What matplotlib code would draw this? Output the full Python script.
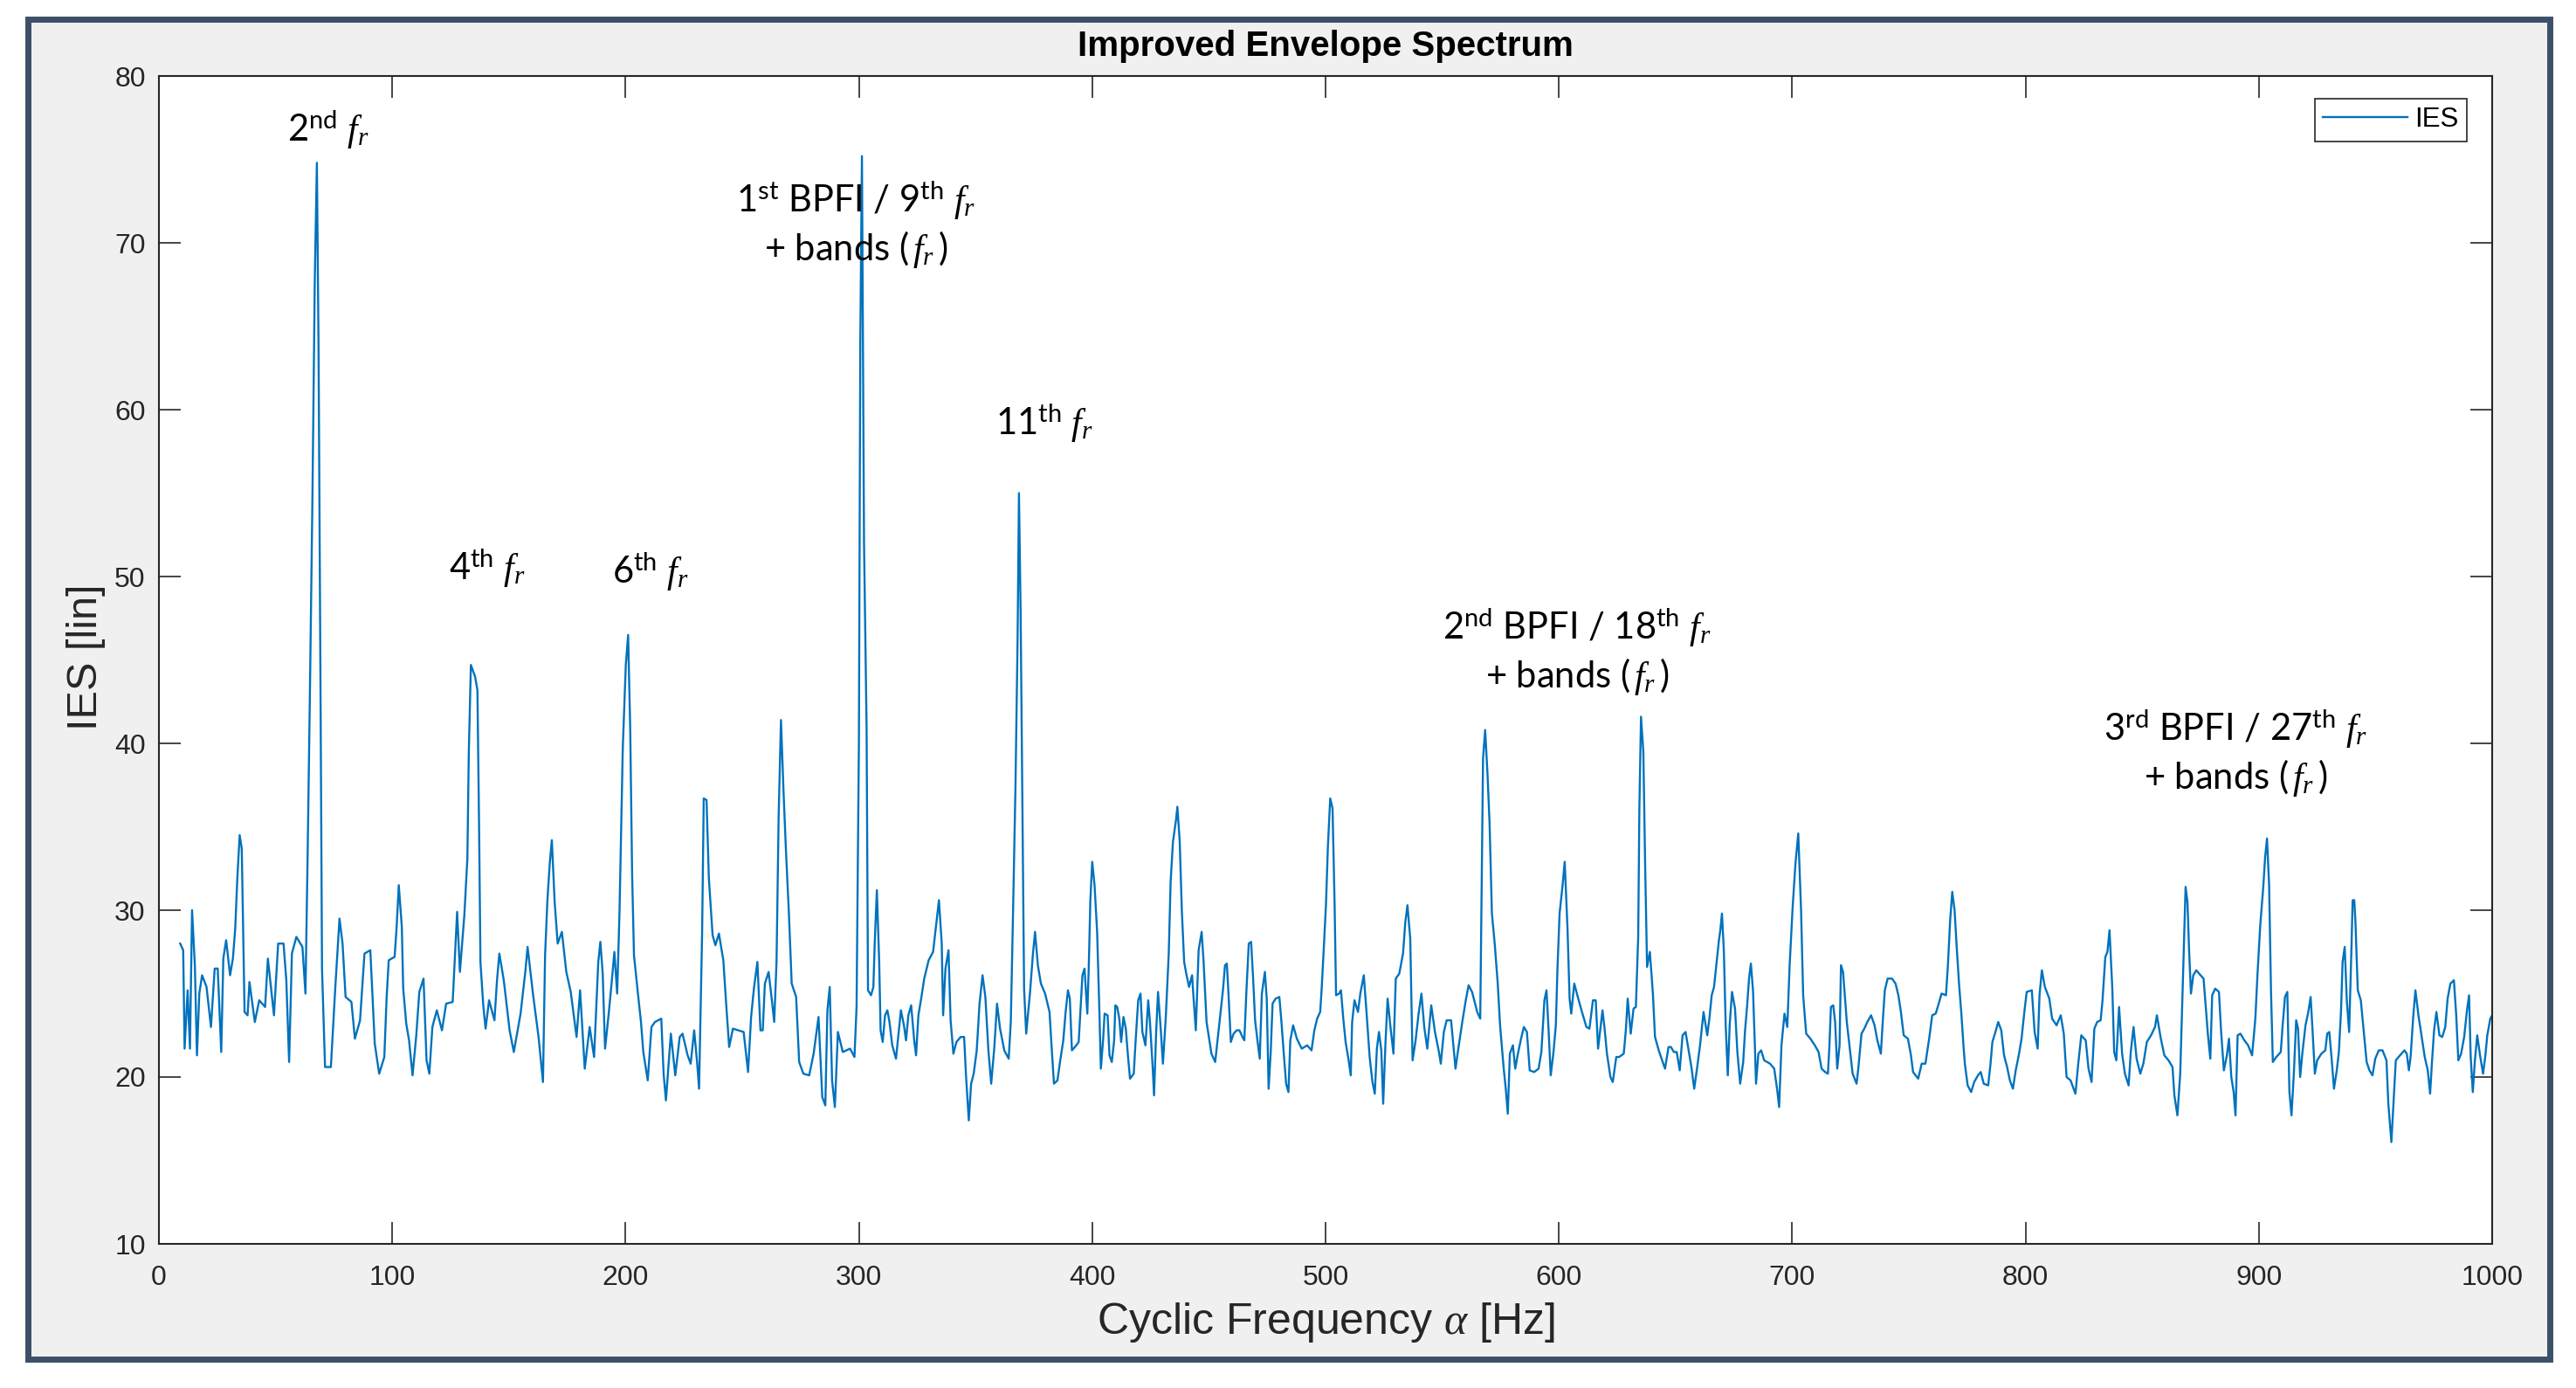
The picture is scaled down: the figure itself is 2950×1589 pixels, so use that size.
import numpy as np
import matplotlib.pyplot as plt
from matplotlib.patches import Rectangle

# values, cyclic frequency [Hz] / IES [lin]
freq = [
    9.1, 10.4, 11.0, 12.3, 13.3, 14.2, 15.4, 16.3, 17.3, 18.5, 20.4, 22.3, 23.9, 25.2, 26.7, 27.6,
    28.8, 30.5, 31.7, 32.7, 33.6, 34.6, 35.5, 36.7, 38.0, 38.8, 41.1, 43.0, 45.5, 46.7, 49.3, 51.1,
    53.4, 54.6, 55.8, 57.0, 58.9, 61.5, 62.8, 63.7, 64.7, 65.8, 66.8, 67.7, 68.4, 69.3, 69.9, 71.2,
    73.7, 75.6, 77.4, 78.7, 80.0, 82.5, 84.0, 86.2, 88.1, 90.6, 92.5, 94.4,
    96.6, 97.6, 98.5, 101.0, 101.8, 102.8, 104.1, 104.7, 106.0, 107.2, 108.7, 110.3, 111.6, 113.4,
    114.7, 115.9, 117.2, 119.1, 121.3, 123.1, 125.9, 126.6, 127.8, 129.0, 130.9, 132.2, 132.8, 133.7,
    135.5, 136.5, 137.2, 137.8, 139.0, 140.0, 141.5, 143.8, 144.9, 145.9, 147.8, 150.3, 152.1, 155.0,
    157.1, 158.0, 160.3, 162.7, 164.6, 165.5, 166.5, 167.5, 168.4, 169.6, 170.9, 172.7, 174.6, 176.5,
    179.0, 180.5, 182.5, 184.6, 186.5, 188.3, 189.2, 190.2, 191.2, 192.7, 194.0, 195.2, 196.4, 197.4,
    198.8, 200.1, 201.1, 202.0, 202.8, 203.6, 205.3, 206.6, 207.6, 209.5, 211.1, 212.6, 215.3, 216.3,
    217.3, 218.6, 219.4, 221.3, 223.2, 224.4, 226.6, 227.9, 229.4, 230.7, 231.5, 232.8, 233.5, 234.7,
    235.7, 237.3, 238.5, 240.0, 241.9, 243.2, 244.4, 246.0, 250.6, 252.5, 253.8, 255.0, 256.5, 257.8,
    258.8, 259.7, 261.3, 262.7, 263.7, 264.7, 265.6, 266.6, 267.7, 268.7, 270.0, 271.2, 273.1, 274.4,
    276.2, 278.7, 280.6, 282.7, 284.3, 285.6, 286.5, 287.5, 288.5, 289.7, 291.0, 293.1, 296.2, 298.1,
    299.0, 300.0, 300.6, 301.3, 302.2, 303.3,
    303.9, 305.2, 306.2, 306.8, 307.7, 308.7, 309.3, 310.2, 311.2, 312.2, 313.1, 314.3, 315.9, 317.2,
    318.0, 319.3, 320.2, 321.2, 322.4, 323.7, 324.5, 325.5, 326.8, 328.0, 329.9, 331.8, 333.0, 334.3,
    335.5, 336.1, 337.1, 338.4, 339.3, 340.5, 341.8, 343.6, 345.1, 345.9, 347.1, 348.1, 349.2, 350.5,
    351.7, 353.0, 354.2, 355.5, 356.7, 358.0, 359.2, 360.5, 362.3, 364.2, 365.1, 366.1, 367.1, 368.0,
    368.6, 369.3, 369.8, 370.8, 371.7, 373.3, 374.6, 375.5, 376.7, 378.0, 379.8, 381.7, 382.6, 383.6,
    385.1, 386.3, 387.6, 388.6, 389.6, 390.4, 391.3, 392.6, 394.2, 395.0, 395.8, 396.7, 397.9, 398.5,
    399.2, 400.0, 401.0, 402.1, 403.0,
    403.7, 404.7, 405.3, 406.6, 407.4, 408.4, 409.4, 409.9, 410.7, 411.6, 412.4, 413.4, 414.4, 415.3,
    416.2, 417.8, 418.7, 419.7, 420.7, 421.5, 422.8, 424.0, 424.7, 425.9, 426.5, 427.4, 428.2, 429.4,
    430.3, 431.5, 432.8, 433.6, 434.6, 435.9, 436.5, 437.5, 438.4, 439.4, 440.3, 441.5, 442.8, 443.4,
    444.4, 445.6, 446.9, 447.7, 449.0, 450.2, 451.1, 452.7, 454.0, 455.0, 456.1, 456.9, 457.7, 458.4,
    459.4, 460.6, 461.9, 463.1, 464.4, 465.2, 466.1, 467.1, 468.1, 469.0, 469.8, 470.8, 471.8, 472.7,
    474.0, 474.8, 475.6, 476.5, 477.3, 478.6, 480.2, 481.1, 482.1, 483.1, 484.1, 484.9, 486.1, 487.7,
    489.8, 492.1, 494.0, 495.2, 496.4, 497.7, 498.3, 499.2, 500.2, 501.0, 502.0, 503.0, 503.9, 504.5,
    505.8, 506.6, 507.6, 508.6, 509.9, 510.8, 511.4, 512.4, 513.9, 514.9, 516.4, 517.6, 518.9, 520.1,
    521.1, 522.0, 522.9, 523.9, 524.7, 525.7, 526.6, 527.9, 529.1, 530.1, 531.6, 533.2, 534.2, 535.1,
    536.3, 537.3, 538.6, 539.8, 541.1, 542.3, 543.6, 545.3, 546.9, 548.6, 549.4, 550.7, 551.9, 553.8,
    555.7, 556.9, 558.6, 560.1, 561.3, 562.8, 565.0, 566.3, 566.9, 567.5, 568.4, 569.4, 570.3, 571.3,
    572.5, 573.8, 574.8, 576.3, 577.3, 578.1, 579.0, 580.3, 581.3, 582.3, 583.8, 585.0, 586.3, 587.5,
    589.4, 591.3, 592.5, 593.8, 594.7, 595.6, 596.5, 597.7, 598.7, 599.4, 600.3, 601.6, 602.5, 603.7,
    604.6,
    605.3, 606.6, 608.1, 609.9, 611.8, 613.1, 614.6, 615.8, 616.8, 617.8, 618.7, 619.6, 620.6, 622.1,
    623.1, 624.6, 625.8, 627.8, 628.7, 629.5, 630.8, 632.0, 633.0, 634.0, 634.5, 635.2, 636.2, 637.0,
    637.8, 639.0, 640.3, 641.2, 642.8, 644.0, 645.5, 647.0, 648.0, 649.3, 650.5, 651.8, 653.0, 654.3,
    655.5, 656.8, 658.0, 659.3, 660.5, 662.0, 663.6, 664.5, 665.5, 666.5, 667.7, 668.6, 669.2, 669.9,
    670.7, 671.5, 672.4, 673.2, 674.2, 675.5, 676.5, 677.7, 679.0, 679.8, 680.7, 681.5, 682.3, 683.2,
    684.0, 684.5, 685.5, 686.7, 688.0, 690.5, 692.3, 693.6, 694.4, 695.4, 696.7, 697.9, 698.9, 700.2,
    701.4, 702.6, 703.8, 704.7,
    706.0, 707.8, 709.7, 711.3, 712.6, 714.1, 715.3, 715.9, 716.6, 717.6, 718.4, 719.3, 720.3, 720.9,
    721.8, 722.6, 723.4, 724.7, 725.9, 727.6, 728.4, 729.7, 730.9, 732.2, 733.8, 735.3, 736.5, 738.0,
    738.8, 739.7, 740.9, 742.8, 744.3, 745.5, 746.5, 747.8, 749.6, 750.9, 751.8, 754.0, 755.5, 757.1,
    758.8, 760.0, 761.5, 762.8, 764.0, 765.9, 766.7, 767.7, 768.6, 769.6, 770.5, 771.5, 772.5, 773.4,
    774.0, 775.2, 776.7, 778.0, 779.6, 780.8, 782.1, 784.0, 785.0, 785.8, 787.1, 788.3, 789.6, 790.8,
    792.1, 793.3, 794.6, 795.8, 797.1,
    798.3, 799.5, 800.5, 802.7, 803.9, 805.2, 806.0, 807.0, 808.3, 810.2, 811.4, 813.3, 815.1, 816.4,
    817.6, 819.3, 821.4, 822.6, 823.9, 825.8, 827.0, 828.3, 829.5, 830.7, 832.2, 833.0, 834.2, 835.1,
    836.0, 837.2, 838.0, 838.9, 840.1, 841.4, 842.6, 844.2, 845.1, 846.3, 847.6, 849.2, 850.5, 852.0,
    853.8, 855.5, 856.3, 858.0, 859.5, 861.3, 863.0, 863.8, 865.1, 866.3, 866.9, 867.9, 868.6, 869.4,
    870.1, 870.9, 871.9, 873.2, 874.4, 876.3, 877.2, 878.2, 879.2, 880.0, 881.3, 882.9, 883.8, 885.0,
    886.3, 887.2, 888.2, 889.2, 890.0, 890.9, 892.1, 893.8, 895.4, 897.1,
    898.5, 899.4, 900.6, 901.9, 902.7, 903.5, 904.4, 905.2, 906.0, 907.5, 909.4, 910.2, 911.2, 912.2,
    913.1, 914.0, 915.0, 916.0, 916.8, 917.7, 918.7, 920.0, 921.2, 922.2, 923.1, 924.0, 925.0, 926.8,
    928.5, 929.3, 930.2, 931.2, 932.2, 933.4, 934.3, 935.2, 935.9, 936.8, 937.7, 938.7, 939.7, 940.2,
    940.9, 941.4, 942.4, 943.7, 944.9, 946.2, 947.4, 948.7, 949.9, 951.4, 953.0, 954.7, 955.5, 956.8,
    957.7, 958.7, 960.5, 962.4, 963.4, 964.3, 965.1, 966.1, 967.1, 968.4, 969.6, 971.1, 972.4, 973.4,
    974.2, 975.1, 976.1, 977.4, 978.6, 979.9, 980.9, 982.1, 983.6, 984.6, 985.5, 986.7, 988.0, 989.2,
    990.1, 990.8, 991.7, 992.6, 993.6, 994.8, 996.1, 997.1, 997.9, 999.2, 1000.0,
]
ies = [
    28.0, 27.6, 21.7, 25.2, 21.7, 30.0, 26.7, 21.3, 25.0, 26.1, 25.4, 23.0, 26.5, 26.5, 21.5, 27.1,
    28.2, 26.1, 27.1, 28.9, 31.9, 34.5, 33.7, 23.9, 23.7, 25.7, 23.3, 24.6, 24.2, 27.1, 23.7, 28.0,
    28.0, 25.8, 20.9, 27.4, 28.4, 27.8, 25.0, 33.0, 42.9, 54.8, 67.8, 74.8, 63.9, 42.1, 26.5, 20.6,
    20.6, 25.4, 29.5, 28.0, 24.8, 24.5, 22.3, 23.4, 27.4, 27.6, 22.0, 20.2,
    21.2, 24.8, 27.0, 27.2, 28.8, 31.5, 29.0, 25.3, 23.2, 22.2, 20.1, 22.5, 25.1, 25.9,
    21.0, 20.2, 23.0, 24.0, 22.8, 24.4, 24.5, 26.5, 29.9, 26.3, 29.7, 33.1, 39.4, 44.7,
    44.0, 43.2, 35.2, 26.9, 24.3, 22.9, 24.6, 23.4, 25.8, 27.4, 25.8, 22.8, 21.5, 23.8,
    26.4, 27.8, 25.0, 22.4, 19.7, 27.3, 30.6, 32.8, 34.2, 30.5, 28.0, 28.7, 26.3, 25.1,
    22.4, 25.2, 20.5, 23.0, 21.2, 26.9, 28.1, 26.2, 21.7, 23.7, 25.6, 27.5, 25.0, 29.9,
    39.7, 44.7, 46.5, 40.8, 32.2, 27.3, 25.0, 23.3, 21.5, 19.8, 23.0, 23.3, 23.5, 20.2,
    18.6, 21.1, 22.6, 20.1, 22.4, 22.6, 21.3, 20.8, 22.8, 20.8, 19.3, 28.6, 36.7, 36.6,
    31.9, 28.5, 27.9, 28.6, 27.0, 24.2, 21.8, 22.9, 22.7, 20.3, 23.6, 25.3, 26.9, 22.8,
    22.8, 25.6, 26.3, 24.6, 23.3, 26.9, 35.6, 41.4, 37.1, 33.7, 29.8, 25.6, 24.8, 20.9,
    20.2, 20.1, 21.4, 23.6, 18.8, 18.3, 24.0, 25.4, 19.8, 18.2, 22.7, 21.5, 21.7, 21.2,
    24.2, 40.0, 64.0, 75.2, 52.0, 40.9,
    25.2, 24.9, 25.4, 28.1, 31.2, 26.9, 22.8, 22.1, 23.7, 24.0, 23.3, 21.9, 21.1, 22.9,
    24.0, 23.1, 22.2, 23.7, 24.3, 22.2, 21.3, 23.7, 24.8, 25.9, 27.0, 27.5, 29.0, 30.6,
    28.0, 23.7, 26.5, 27.6, 23.4, 21.4, 22.1, 22.4, 22.4, 20.1, 17.4, 19.6, 20.2, 21.6,
    24.4, 26.1, 24.8, 21.6, 19.6, 21.7, 24.4, 22.9, 21.6, 21.1, 23.3, 30.1, 37.4, 46.1,
    55.0, 48.0, 40.4, 25.3, 22.6, 25.0, 27.4, 28.7, 26.7, 25.6, 25.0, 23.9, 21.8, 19.6,
    19.8, 21.0, 22.2, 23.9, 25.2, 24.7, 21.6, 21.8, 22.1, 24.1, 26.1, 26.5, 23.8, 26.5,
    30.6, 32.9, 31.5, 28.7, 24.3,
    20.5, 22.3, 23.8, 23.7, 21.3, 20.9, 22.2, 24.3, 24.2, 23.5, 22.1, 23.6, 22.9, 21.3,
    19.9, 20.2, 22.4, 24.6, 25.0, 22.7, 21.9, 24.6, 23.4, 20.6, 18.9, 22.7, 25.1, 22.8,
    20.8, 23.5, 27.4, 31.7, 34.1, 35.4, 36.2, 34.1, 30.0, 26.9, 26.2, 25.4, 26.1, 24.8,
    22.8, 27.6, 28.7, 27.0, 23.3, 22.2, 21.4, 20.9, 22.6, 23.9, 25.3, 26.7, 26.8, 25.0,
    22.1, 22.6, 22.8, 22.8, 22.4, 22.2, 25.2, 28.0, 28.1, 25.8, 23.4, 22.2, 21.1, 25.0,
    26.3, 24.7, 19.3, 21.5, 24.4, 24.7, 24.8, 23.3, 21.4, 19.6, 19.1, 22.2, 23.1, 22.3,
    21.7, 21.9, 21.6, 22.8, 23.5, 23.9, 25.2, 27.6, 30.4, 33.8, 36.7, 36.1, 30.2, 24.9,
    25.0, 25.2, 23.5, 22.1, 21.0, 20.1, 23.3, 24.6, 23.9, 25.0, 26.1, 23.8, 21.2, 19.7,
    19.0, 21.7, 22.7, 21.6, 18.4, 22.1, 24.7, 22.9, 21.4, 25.9, 26.2, 27.4, 29.3, 30.3,
    28.3, 21.0, 22.2, 23.7, 25.0, 23.0, 21.7, 24.3, 22.7, 21.5, 20.8, 22.7, 23.4, 23.4,
    20.5, 21.7, 23.3, 24.6, 25.5, 25.1, 23.9, 23.5, 31.1, 39.1, 40.8, 38.2, 35.2, 29.8,
    28.0, 25.6, 23.1, 20.6, 19.2, 17.8, 21.4, 21.9, 20.5, 21.3, 22.3, 23.0, 22.7, 20.4,
    20.3, 20.5, 21.5, 24.6, 25.2, 22.8, 20.1, 21.5, 23.1, 26.5, 29.8, 31.5, 32.9, 28.9,
    24.7,
    23.8, 25.6, 24.8, 23.9, 23.0, 22.9, 24.6, 24.6, 21.7, 22.9, 24.0, 22.9, 21.4, 20.0,
    19.7, 21.2, 21.2, 21.4, 22.8, 24.7, 22.6, 24.1, 24.2, 28.4, 36.1, 41.6, 39.5, 32.5,
    26.6, 27.5, 25.0, 22.4, 21.6, 21.1, 20.5, 21.8, 21.8, 21.5, 21.5, 20.4, 22.5, 22.7,
    21.7, 20.6, 19.3, 20.6, 21.9, 23.9, 22.5, 23.5, 24.9, 25.4, 27.0, 28.2, 28.8, 29.8,
    27.6, 23.1, 20.1, 23.1, 25.1, 24.1, 21.5, 19.6, 20.9, 22.8, 24.3, 25.9, 26.8, 25.2,
    21.9, 19.6, 21.4, 21.6, 21.0, 20.8, 20.5, 19.2, 18.2, 21.9, 23.8, 23.0, 26.7, 30.2,
    32.8, 34.6, 30.0, 24.9,
    22.6, 22.3, 21.9, 21.5, 20.5, 20.3, 20.2, 21.7, 24.2, 24.3, 23.3, 20.5, 21.9, 26.7,
    26.3, 24.8, 23.3, 21.7, 20.2, 19.6, 20.6, 22.6, 22.9, 23.3, 23.7, 23.1, 22.2, 21.4,
    23.3, 25.2, 25.9, 25.9, 25.6, 24.9, 24.0, 22.5, 22.3, 21.3, 20.3, 19.9, 20.8, 20.8,
    22.4, 23.7, 23.8, 24.4, 25.0, 24.9, 26.6, 29.4, 31.1, 30.0, 27.8, 25.6, 23.8, 21.9,
    20.8, 19.5, 19.1, 19.7, 20.1, 20.3, 19.6, 19.5, 20.8, 22.1, 22.7, 23.3, 22.8, 21.3,
    20.6, 19.8, 19.3, 20.4, 21.3,
    22.3, 23.9, 25.1, 25.2, 22.7, 21.7, 24.9, 26.4, 25.4, 24.7, 23.5, 23.1, 23.7, 22.6,
    20.0, 19.8, 19.0, 20.8, 22.5, 22.2, 20.5, 19.7, 22.9, 23.3, 23.4, 24.6, 27.2, 27.5,
    28.8, 25.3, 21.5, 21.0, 24.2, 21.4, 20.2, 19.5, 21.5, 23.0, 21.1, 20.2, 20.8, 22.1,
    22.5, 23.0, 23.7, 22.3, 21.3, 21.0, 20.6, 18.9, 17.7, 20.2, 23.1, 28.0, 31.4, 30.5,
    27.6, 25.0, 26.1, 26.4, 26.2, 25.9, 24.3, 22.5, 21.1, 24.9, 25.3, 25.1, 22.8, 20.4,
    21.3, 22.3, 20.0, 19.1, 17.7, 22.5, 22.6, 22.2, 21.9, 21.3,
    23.5, 26.1, 29.1, 31.4, 33.2, 34.3, 31.5, 25.2, 20.9, 21.2, 21.5, 23.1, 24.8, 25.1,
    19.1, 17.7, 20.2, 23.4, 22.9, 20.0, 21.5, 23.1, 23.9, 24.8, 22.6, 20.2, 21.0, 21.4,
    21.6, 22.6, 22.7, 21.1, 19.3, 20.4, 21.5, 23.9, 26.9, 27.8, 24.6, 22.7, 27.8, 30.6,
    30.6, 29.3, 25.2, 24.6, 22.8, 20.9, 20.4, 20.1, 21.1, 21.6, 21.6, 21.0, 18.4, 16.1,
    18.4, 21.0, 21.3, 21.6, 21.4, 20.4, 21.3, 23.5, 25.2, 23.7, 22.6, 21.2, 20.4, 19.0,
    20.9, 22.8, 23.9, 22.5, 22.4, 23.0, 24.7, 25.6, 25.8, 23.7, 21.0, 21.4, 22.4, 24.0,
    24.9, 21.2, 19.1, 21.0, 22.5, 21.3, 20.2, 21.3, 22.5, 23.5, 23.7,
]

# peak labels: text, x [Hz], y [lin]
bands = r'+ bands $(\,f_r\,)$'
labels = [
    (r'2$^{\mathrm{nd}}$ $f_r$', 72.5, 76.8),
    (r'4$^{\mathrm{th}}$ $f_r$', 140.8, 50.5),
    (r'6$^{\mathrm{th}}$ $f_r$', 210.6, 50.3),
    (r'1$^{\mathrm{st}}$ BPFI / 9$^{\mathrm{th}}$ $f_r$' + '\n' + bands, 298.6, 71.1),
    (r'11$^{\mathrm{th}}$ $f_r$', 379.6, 59.2),
    (r'2$^{\mathrm{nd}}$ BPFI / 18$^{\mathrm{th}}$ $f_r$' + '\n' + bands, 607.7, 45.5),
    (r'3$^{\mathrm{rd}}$ BPFI / 27$^{\mathrm{th}}$ $f_r$' + '\n' + bands, 890.0, 39.4),
]

plt.rcParams['font.family'] = ['Liberation Sans', 'DejaVu Sans']
plt.rcParams['mathtext.fontset'] = 'custom'
plt.rcParams['mathtext.rm'] = 'Lato'
plt.rcParams['mathtext.it'] = 'Liberation Serif:italic'
plt.rcParams['mathtext.bf'] = 'Lato:bold'

W, H = 2950, 1589
fig = plt.figure(figsize=(W / 100, H / 100), dpi=100)
fig.patch.set_facecolor('white')
frame = Rectangle((32 / W, 1 - 1556 / H), (2920 - 32) / W, (1556 - 22) / H,
                  transform=fig.transFigure, facecolor='#f0f0f0',
                  edgecolor='#3c5068', linewidth=5, zorder=-10)
fig.add_artist(frame)

ax = fig.add_axes([182 / W, 1 - 1424 / H, (2854 - 182) / W, (1424 - 87) / H])
ax.set_facecolor('white')
ax.plot(freq, ies, color='#0072BD', lw=1.7, label='IES')
ax.set_xlim(0, 1000)
ax.set_ylim(10, 80)
ax.set_xticks(np.arange(0, 1001, 100))
ax.set_yticks(np.arange(10, 81, 10))
for s in ax.spines.values():
    s.set_color('#262626')
    s.set_linewidth(1.5)
ax.tick_params(direction='in', length=18, width=1.2, colors='#262626',
               top=True, right=True, labelsize=23)
ax.tick_params(axis='x', pad=17)
ax.tick_params(axis='y', pad=11)

ax.set_xlabel(r'Cyclic Frequency $\alpha$ [Hz]', fontsize=36, color='#262626')
ax.xaxis.set_label_coords(0.5, -0.0673)
ax.xaxis.label.set_va('center')
ax.set_ylabel('IES [lin]', fontsize=35, color='#262626')
ax.yaxis.set_label_coords(-0.0314, 0.5026)
ax.yaxis.label.set_va('center')

fig.text(0.5146, 1 - 53 / H, 'Improved Envelope Spectrum', fontsize=29,
         fontweight='bold', ha='center', va='center', color='black')

for txt, x, y in labels:
    ax.text(x, y, txt, fontsize=30, family='Lato', ha='center', va='center',
            multialignment='center', color='black', linespacing=1.25)

leg = ax.legend(loc='upper right', bbox_to_anchor=(0.989, 0.9806), borderaxespad=0,
                fontsize=22.5, handlelength=3.1, handletextpad=0.25, borderpad=0.3,
                fancybox=False, framealpha=1, edgecolor='#262626')
leg.get_frame().set_linewidth(1.2)

fig.savefig('out.png', dpi=100)
